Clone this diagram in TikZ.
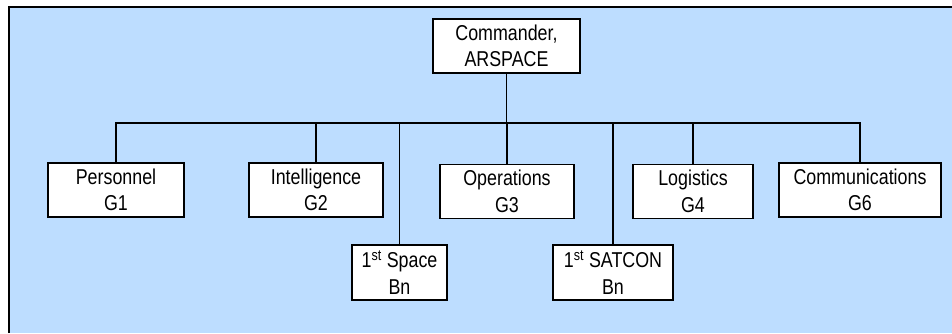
\documentclass[tikz,border=0pt]{standalone}
\usepackage{fontspec}
\setmainfont{Liberation Sans}
\newfontfamily\chartfont[FakeStretch=0.83]{Liberation Sans}
\usepackage{xcolor}
\usepackage{tikz}
\usetikzlibrary{positioning}
\definecolor{panelblue}{RGB}{189,221,255}

\begin{document}
\begin{tikzpicture}[x=1pt, y=-1pt, line width=1.3pt,
    every node/.style={font=\chartfont\fontsize{21.5}{26.5}\selectfont},
    unit/.style={draw=black, fill=white, align=center, inner sep=0pt, minimum height=54pt}]
    \useasboundingbox (0,0) rectangle (952,333);
    % Panel background
    \fill[panelblue] (9,7) rectangle (952,333);
    \draw (9,333) -- (9,7) -- (952,7);

    % Commander
    \node[unit, minimum width=147pt] (CMD) at (506.5,46) {Commander,\\ARSPACE};

    % Staff sections
    \node[unit, minimum width=136pt] (G1) at (116,190) {Personnel\\G1};
    \node[unit, minimum width=134pt] (G2) at (316,190) {Intelligence\\G2};
    \node[unit, minimum width=134pt] (G3) at (507,191.5) {Operations\\G3};
    \node[unit, minimum width=120pt] (G4) at (693,191.5) {Logistics\\G4};
    \node[unit, minimum width=162pt] (G6) at (860,190) {Communications\\G6};

    % Battalions
    \node[unit, minimum width=95pt, minimum height=55pt] (SPB) at (399.5,272.5) {1\textsuperscript{st} Space\\Bn};
    \node[unit, minimum width=120pt, minimum height=55pt] (SCB) at (613,272.5) {1\textsuperscript{st} SATCON\\Bn};

    % Connectors
    \coordinate (BUS) at (506.5,123);
    \draw (CMD.south) -- (BUS);
    \foreach \u in {G1,G2,SPB,G3,SCB,G4,G6} {
        \draw (BUS) -| (\u.north);
    }
\end{tikzpicture}
\end{document}
